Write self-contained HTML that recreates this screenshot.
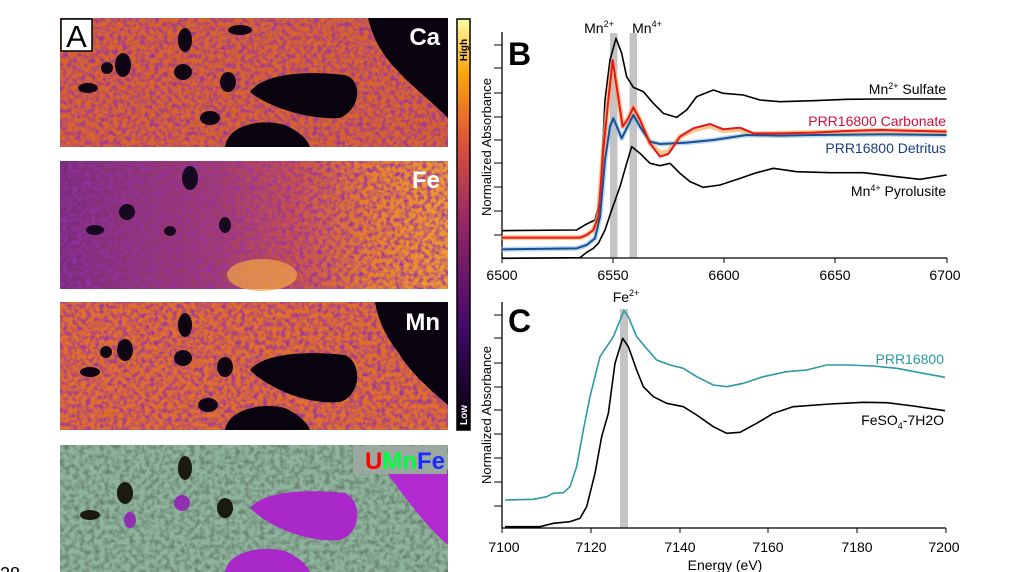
<!DOCTYPE html>
<html><head><meta charset="utf-8"><style>
html,body{margin:0;padding:0;background:#fff;}
svg{display:block;font-family:"Liberation Sans",Arial,sans-serif;}
</style></head><body>
<svg width="1024" height="572" viewBox="0 0 1024 572" xmlns="http://www.w3.org/2000/svg">
<defs>
<filter id="tex" x="0" y="0" width="100%" height="100%">
<feTurbulence type="fractalNoise" baseFrequency="0.22" numOctaves="2" seed="3"/>
<feColorMatrix type="matrix" values="0 0 0 0 0.3  0 0 0 0 0.03  0 0 0 0 0.4  0 0 0 2.2 -0.85"/>
</filter>
<filter id="tex2" x="0" y="0" width="100%" height="100%">
<feTurbulence type="fractalNoise" baseFrequency="0.2" numOctaves="2" seed="7"/>
<feColorMatrix type="matrix" values="0 0 0 0 0.1  0 0 0 0 0.15  0 0 0 0 0.1  0 0 0 1.6 -0.6"/>
</filter>
<linearGradient id="cb" x1="0" y1="1" x2="0" y2="0">
<stop offset="0" stop-color="#000004"/><stop offset="0.25" stop-color="#420a68"/>
<stop offset="0.5" stop-color="#932667"/><stop offset="0.7" stop-color="#dd513a"/>
<stop offset="0.87" stop-color="#fca50a"/><stop offset="1" stop-color="#fcffa4"/>
</linearGradient>
<linearGradient id="feg" x1="0" y1="0" x2="1" y2="0">
<stop offset="0" stop-color="#7a2c7a"/><stop offset="0.4" stop-color="#a03c6a"/>
<stop offset="0.6" stop-color="#c85248"/><stop offset="0.8" stop-color="#e8802a"/><stop offset="1" stop-color="#f29a30"/>
</linearGradient>
</defs>

<!-- Ca panel -->
<g>
<rect x="60" y="18" width="388" height="129" fill="#d8642c"/>
<rect x="60" y="18" width="388" height="129" filter="url(#tex)"/>
<path d="M368,18 L448,18 L448,118 C430,100 410,85 395,68 C380,52 372,35 368,18Z" fill="#08030f"/>
<path d="M250,92 C262,75 300,70 345,75 C362,80 362,108 340,118 C310,120 270,108 250,92Z" fill="#08030f"/>
<path d="M225,147 C228,125 260,118 285,125 C300,132 308,140 310,147Z" fill="#08030f"/>
<ellipse cx="185" cy="40" rx="7" ry="12" fill="#100515"/><ellipse cx="123" cy="65" rx="8" ry="12" fill="#100515"/>
<ellipse cx="183" cy="72" rx="9" ry="8" fill="#100515"/><ellipse cx="210" cy="118" rx="10" ry="7" fill="#100515"/>
<ellipse cx="228" cy="82" rx="8" ry="10" fill="#100515"/><ellipse cx="88" cy="88" rx="10" ry="5" fill="#100515"/>
<ellipse cx="107" cy="68" rx="6" ry="6" fill="#100515"/><ellipse cx="240" cy="30" rx="12" ry="5" fill="#100515"/>
<rect x="61" y="19" width="31" height="32" fill="#fff" stroke="#000" stroke-width="1.5"/>
<text x="76.5" y="47" font-size="31" text-anchor="middle" fill="#000">A</text>
<text x="440" y="45" font-size="24" font-weight="bold" fill="#fff" text-anchor="end">Ca</text>
</g>

<!-- Fe panel -->
<g>
<rect x="60" y="161" width="388" height="128" fill="url(#feg)"/>
<rect x="60" y="161" width="388" height="128" filter="url(#tex)"/>
<ellipse cx="262" cy="275" rx="35" ry="16" fill="#f3a843" opacity="0.7"/>
<ellipse cx="190" cy="178" rx="8" ry="12" fill="#150820"/><ellipse cx="127" cy="212" rx="8" ry="8" fill="#150820"/>
<ellipse cx="95" cy="230" rx="9" ry="5" fill="#150820"/><ellipse cx="225" cy="225" rx="6" ry="8" fill="#150820"/>
<ellipse cx="170" cy="231" rx="6" ry="5" fill="#150820"/>
<text x="440" y="188" font-size="24" font-weight="bold" fill="#fff" text-anchor="end">Fe</text>
</g>

<!-- Mn panel -->
<g>
<rect x="60" y="302" width="388" height="128" fill="#e06e2c"/>
<rect x="60" y="302" width="388" height="128" filter="url(#tex)"/>
<path d="M375,302 L448,302 L448,405 C430,390 410,372 398,352 C385,335 378,320 375,302Z" fill="#08030f"/>
<path d="M250,370 C262,355 300,350 345,355 C362,362 362,395 340,402 C310,405 270,390 250,370Z" fill="#08030f"/>
<path d="M225,430 C228,410 260,402 285,408 C300,415 308,424 310,430Z" fill="#08030f"/>
<ellipse cx="185" cy="325" rx="7" ry="12" fill="#100515"/><ellipse cx="125" cy="350" rx="8" ry="11" fill="#100515"/>
<ellipse cx="183" cy="358" rx="9" ry="8" fill="#100515"/><ellipse cx="208" cy="405" rx="10" ry="7" fill="#100515"/>
<ellipse cx="225" cy="367" rx="8" ry="10" fill="#100515"/><ellipse cx="90" cy="372" rx="10" ry="5" fill="#100515"/>
<ellipse cx="106" cy="352" rx="6" ry="6" fill="#100515"/>
<text x="440" y="330" font-size="24" font-weight="bold" fill="#fff" text-anchor="end">Mn</text>
</g>

<!-- UMnFe panel -->
<g>
<rect x="60" y="445" width="388" height="127" fill="#8fb49e"/>
<rect x="60" y="445" width="388" height="127" filter="url(#tex2)"/>
<path d="M385,470 L448,470 L448,545 C430,530 410,505 385,470Z" fill="#b02ad0"/>
<path d="M250,508 C262,493 300,488 345,493 C362,500 362,533 340,540 C310,543 270,528 250,508Z" fill="#a828c8"/>
<path d="M225,572 C228,552 260,545 285,551 C300,558 308,566 310,572Z" fill="#a828c8"/>
<ellipse cx="185" cy="468" rx="7" ry="12" fill="#1a1a10"/><ellipse cx="125" cy="493" rx="8" ry="11" fill="#1a1a10"/>
<ellipse cx="225" cy="508" rx="8" ry="10" fill="#1a1a10"/><ellipse cx="90" cy="515" rx="10" ry="5" fill="#1a1a10"/>
<ellipse cx="130" cy="520" rx="6" ry="8" fill="#9030b0"/><ellipse cx="182" cy="503" rx="8" ry="8" fill="#9030b0"/>
<rect x="353" y="446" width="94" height="28" fill="#9aa8a0"/>
<text x="445" y="469" font-size="24" font-weight="bold" text-anchor="end"><tspan fill="#ff0000">U</tspan><tspan fill="#00ff40">Mn</tspan><tspan fill="#1a2cff">Fe</tspan></text>
</g>

<!-- colorbar -->
<rect x="457" y="19" width="13" height="411" fill="url(#cb)" stroke="#000" stroke-width="1.5"/>
<text transform="translate(467,50) rotate(-90)" font-size="10" font-weight="bold" fill="#000" text-anchor="middle">High</text>
<text transform="translate(467,415) rotate(-90)" font-size="10" font-weight="bold" fill="#fff" text-anchor="middle">Low</text>

<text x="0" y="580" font-size="18" fill="#000">28</text>

<!-- Panel B -->
<g fill="none">
<rect x="610" y="33" width="7.5" height="225" fill="#c4c4c4"/>
<rect x="629.5" y="33" width="7.5" height="225" fill="#c4c4c4"/>
<path d="M502,32 V258 H947" stroke="#000" stroke-width="1.3"/>
<g stroke="#000" stroke-width="1">
<path d="M494,45H502M494,68H502M494,93H502M494,117H502M494,140H502M494,163H502M494,187H502M494,211H502M494,235H502"/>
<path d="M502,258v5M613,258v5M724,258v5M835,258v5M947,258v5"/>
</g>
<g transform="translate(480,0) scale(0.33333)" stroke-linejoin="round">
<polyline vector-effect="non-scaling-stroke" stroke="#000" stroke-width="1.6" points="65,692 290,690 320,672 345,660 360,600 375,300 390,180 408,115 425,160 440,230 460,262 490,275 520,310 550,340 590,352 620,330 650,290 700,270 730,280 790,285 840,300 900,305 1000,302 1100,298 1200,297 1400,297"/>
<polyline vector-effect="non-scaling-stroke" stroke="#8fc0e8" stroke-width="5" opacity="0.6" points="65,748 290,745 320,735 345,715 360,650 375,480 390,380 400,355 415,390 425,415 440,385 460,345 480,380 510,425 540,432 580,430 620,428 700,420 800,405 900,407 1000,405 1200,403 1400,405"/>
<polyline vector-effect="non-scaling-stroke" stroke="#f5b060" stroke-width="5" opacity="0.7" points="65,713 300,713 320,705 340,690 355,650 370,450 385,300 398,190 410,260 428,380 445,355 460,322 480,360 510,430 540,460 565,455 600,410 640,390 690,378 730,392 780,388 820,402 900,400 1000,398 1100,395 1200,392 1400,395"/>
<polyline vector-effect="non-scaling-stroke" stroke="#1a4f90" stroke-width="2" points="65,748 290,745 320,735 345,715 360,650 375,480 390,380 400,355 415,390 425,415 440,385 460,345 480,380 510,425 540,432 580,430 620,428 700,420 800,405 900,407 1000,405 1200,403 1400,405"/>
<polyline vector-effect="non-scaling-stroke" stroke="#e8141e" stroke-width="2" points="65,713 300,713 320,705 340,690 355,650 370,450 385,300 398,180 410,260 428,380 445,355 460,322 480,360 510,430 540,470 565,462 600,410 640,385 690,372 730,388 780,383 820,400 900,400 1000,398 1100,393 1200,390 1400,395"/>
<polyline vector-effect="non-scaling-stroke" stroke="#000" stroke-width="1.6" points="65,775 300,773 320,757 340,745 355,730 375,690 395,630 420,560 440,490 455,440 480,460 510,490 540,497 570,490 600,520 630,545 670,562 720,555 780,535 830,518 880,505 950,515 1050,518 1150,518 1250,530 1320,538 1400,525"/>
</g>
</g>
<g font-size="14" fill="#000">
<text x="502" y="280" text-anchor="middle">6500</text><text x="613" y="280" text-anchor="middle">6550</text>
<text x="724" y="280" text-anchor="middle">6600</text><text x="835" y="280" text-anchor="middle">6650</text>
<text x="945" y="280" text-anchor="middle">6700</text>
<text x="599" y="33" text-anchor="middle">Mn<tspan font-size="9" dy="-6">2+</tspan></text>
<text x="647" y="33" text-anchor="middle">Mn<tspan font-size="9" dy="-6">4+</tspan></text>
<text x="946" y="94" text-anchor="end">Mn<tspan font-size="9" dy="-5">2+</tspan><tspan dy="5"> Sulfate</tspan></text>
<text x="946" y="126" text-anchor="end" fill="#d0103a">PRR16800 Carbonate</text>
<text x="946" y="153" text-anchor="end" fill="#1a3f80">PRR16800 Detritus</text>
<text x="946" y="196" text-anchor="end">Mn<tspan font-size="9" dy="-5">4+</tspan><tspan dy="5"> Pyrolusite</tspan></text>
<text transform="translate(491,147) rotate(-90)" text-anchor="middle" font-size="13">Normalized Absorbance</text>
<text transform="translate(491,415) rotate(-90)" text-anchor="middle" font-size="13">Normalized Absorbance</text>
</g>
<text x="508" y="65" font-size="32" font-weight="bold" fill="#000">B</text>

<!-- Panel C -->
<g fill="none">
<rect x="620" y="309" width="8" height="219" fill="#c4c4c4"/>
<path d="M502,302 V528 H946" stroke="#000" stroke-width="1.3"/>
<g stroke="#000" stroke-width="1">
<path d="M494,315H502M494,338H502M494,363H502M494,387H502M494,410H502M494,434H502M494,458H502M494,482H502M494,506H502"/>
<path d="M502,528v5M591,528v5M680,528v5M768,528v5M857,528v5M946,528v5"/>
</g>
<g transform="translate(480,280) scale(0.33333)" stroke-linejoin="round">
<polyline vector-effect="non-scaling-stroke" stroke="#2a9aa6" stroke-width="1.6" points="75,660 160,658 200,650 220,640 250,638 270,620 290,560 310,450 330,350 360,230 380,200 400,170 432,92 445,110 470,170 495,200 530,240 570,255 610,265 650,290 700,315 740,320 790,310 850,290 920,275 980,270 1040,255 1100,255 1180,258 1250,265 1330,280 1395,292"/>
<polyline vector-effect="non-scaling-stroke" stroke="#000" stroke-width="1.6" points="75,740 180,740 220,730 270,725 300,715 320,680 345,580 365,470 385,400 405,250 428,175 445,200 470,270 490,320 520,350 560,370 610,380 650,405 700,440 740,460 780,457 830,430 880,400 940,380 1050,372 1150,367 1220,368 1300,378 1395,392"/>
</g>
</g>
<g font-size="14" fill="#000">
<text x="504" y="552" text-anchor="middle">7100</text><text x="591" y="552" text-anchor="middle">7120</text>
<text x="680" y="552" text-anchor="middle">7140</text><text x="768" y="552" text-anchor="middle">7160</text>
<text x="857" y="552" text-anchor="middle">7180</text><text x="944" y="552" text-anchor="middle">7200</text>
<text x="725" y="570" text-anchor="middle">Energy (eV)</text>
<text x="626" y="302" text-anchor="middle">Fe<tspan font-size="9" dy="-6">2+</tspan></text>
<text x="944" y="364" text-anchor="end" fill="#2a9aa6">PRR16800</text>
<text x="944" y="425" text-anchor="end">FeSO<tspan font-size="9" dy="4">4</tspan><tspan dy="-4">-7H2O</tspan></text>
</g>
<text x="508" y="332" font-size="32" font-weight="bold" fill="#000">C</text>
</svg>
</body></html>
